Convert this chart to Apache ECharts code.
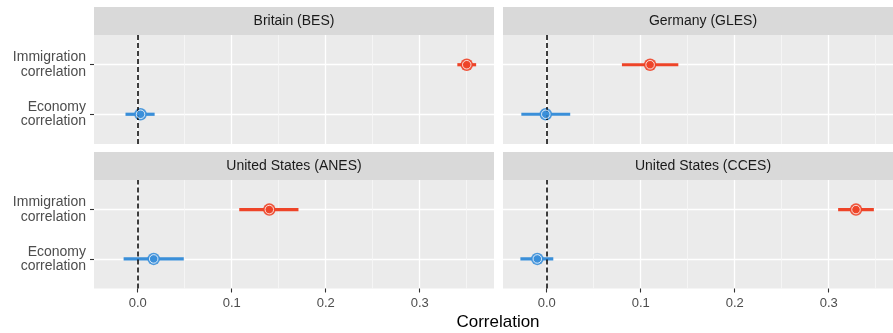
<!DOCTYPE html>
<html><head><meta charset="utf-8">
<script src="https://cdn.jsdelivr.net/npm/echarts@6/dist/echarts.min.js"></script>
<style>html,body{margin:0;padding:0;background:#fff;overflow:hidden}#c{width:910px;height:333px}</style>
</head><body><div id="c"></div>
<script>
const panels = ['Britain (BES)', 'Germany (GLES)', 'United States (ANES)', 'United States (CCES)'];
const rowLabels = ['Economy\ncorrelation', 'Immigration\ncorrelation'];
const xTicks = [0, 0.1, 0.2, 0.3];
const xMinor = [0.05, 0.15, 0.25, 0.35];
const immEst = [0.350, 0.110, 0.140, 0.329];
const immLo  = [0.340, 0.080, 0.108, 0.310];
const immHi  = [0.360, 0.140, 0.171, 0.348];
const ecoEst = [0.003, -0.001, 0.017, -0.010];
const ecoLo  = [-0.013, -0.027, -0.015, -0.028];
const ecoHi  = [0.018, 0.025, 0.049, 0.007];

const RED = '#EE4428', BLUE = '#3A8FD9';
const FONT = '"Liberation Sans", Arial, Helvetica, sans-serif';
const XMIN = -0.0465, XMAX = 0.379;

const gridPos = [
  {left: 94, top: 35, width: 400, height: 109},
  {left: 503, top: 35, width: 400, height: 109},
  {left: 94, top: 180, width: 400, height: 108.5},
  {left: 503, top: 180, width: 400, height: 108.5}
];

const grids = [], xAxes = [], yAxes = [], series = [], graphics = [];
gridPos.forEach((g, i) => {
  grids.push(Object.assign({show: true, backgroundColor: '#EBEBEB', borderWidth: 0, containLabel: false, outerBoundsMode: 'none'}, g));
  const bottom = i >= 2, left = i % 2 === 0;
  xAxes.push({
    type: 'value', gridIndex: i, min: XMIN, max: XMAX, position: 'bottom',
    axisLine: {show: false, onZero: false},
    axisTick: {show: bottom, customValues: xTicks, length: 4, lineStyle: {color: '#333333', width: 1.1}},
    axisLabel: {show: bottom, customValues: xTicks, formatter: v => v.toFixed(1), color: '#4D4D4D', fontSize: 13, fontFamily: FONT, margin: 8},
    splitLine: {show: true, lineStyle: {color: '#FFFFFF', width: 1.3}}
  });
  xAxes.push({
    type: 'value', gridIndex: i, min: XMIN, max: XMAX, position: 'top',
    axisLine: {show: false, onZero: false},
    axisTick: {show: false, customValues: xMinor},
    axisLabel: {show: false, customValues: xMinor},
    splitLine: {show: true, lineStyle: {color: '#F7F7F7', width: 0.8}}
  });
  yAxes.push({
    type: 'value', gridIndex: i, min: 0.4, max: 2.6,
    axisLine: {show: false, onZero: false},
    axisTick: {show: left, customValues: [1, 2], length: 4, lineStyle: {color: '#333333', width: 1.1}},
    axisLabel: {show: left, customValues: [1, 2], formatter: v => rowLabels[Math.round(v) - 1], color: '#4D4D4D', fontSize: 14, lineHeight: 14.5, fontFamily: FONT, margin: 8, align: 'right'},
    splitLine: {show: true, lineStyle: {color: '#FFFFFF', width: 1.3}}
  });
  const xi = i * 2;
  const rows = [
    {y: 2, est: immEst[i], lo: immLo[i], hi: immHi[i], color: RED},
    {y: 1, est: ecoEst[i], lo: ecoLo[i], hi: ecoHi[i], color: BLUE}
  ];
  series.push({
    type: 'line', xAxisIndex: xi, yAxisIndex: i, data: [], silent: true,
    markLine: {silent: true, symbol: ['none', 'none'], label: {show: false}, animation: false,
      lineStyle: {color: '#000000', type: [5, 3], width: 1.5},
      data: [{xAxis: 0}]}
  });
  rows.forEach(r => {
    series.push({
      type: 'custom', xAxisIndex: xi, yAxisIndex: i, silent: true,
      data: [[r.lo, r.hi, r.y]],
      renderItem: (params, api) => {
        const p1 = api.coord([api.value(0), api.value(2)]);
        const p2 = api.coord([api.value(1), api.value(2)]);
        return {type: 'line', shape: {x1: p1[0], y1: p1[1], x2: p2[0], y2: p2[1]},
          style: {stroke: r.color, lineWidth: 3.2}};
      },
      z: 3
    });
    series.push({
      type: 'scatter', xAxisIndex: xi, yAxisIndex: i, silent: true,
      data: [[r.est, r.y]], symbol: 'circle', symbolSize: 12.5,
      itemStyle: {color: r.color, opacity: 0.9}, z: 4
    });
    series.push({
      type: 'scatter', xAxisIndex: xi, yAxisIndex: i, silent: true,
      data: [[r.est, r.y]], symbol: 'circle', symbolSize: 8.5,
      itemStyle: {color: r.color, borderColor: '#FFFFFF', borderWidth: 1}, z: 5
    });
  });
  const sy = g.top - 28;
  graphics.push({type: 'rect', shape: {x: g.left, y: sy, width: g.width, height: 28}, style: {fill: '#D9D9D9'}, silent: true});
  graphics.push({type: 'text', x: g.left + g.width / 2, y: sy + 14, silent: true,
    style: {text: panels[i], fill: '#1A1A1A', font: '14px ' + FONT, textAlign: 'center', textVerticalAlign: 'middle'}});
});
graphics.push({type: 'text', x: 498, y: 322, silent: true,
  style: {text: 'Correlation', fill: '#000000', font: '17px ' + FONT, textAlign: 'center', textVerticalAlign: 'middle'}});

const chart = echarts.init(document.getElementById('c'), null, {renderer: 'canvas'});
chart.setOption({
  animation: false,
  backgroundColor: '#FFFFFF',
  grid: grids, xAxis: xAxes, yAxis: yAxes, series: series, graphic: graphics
});
</script></body></html>
